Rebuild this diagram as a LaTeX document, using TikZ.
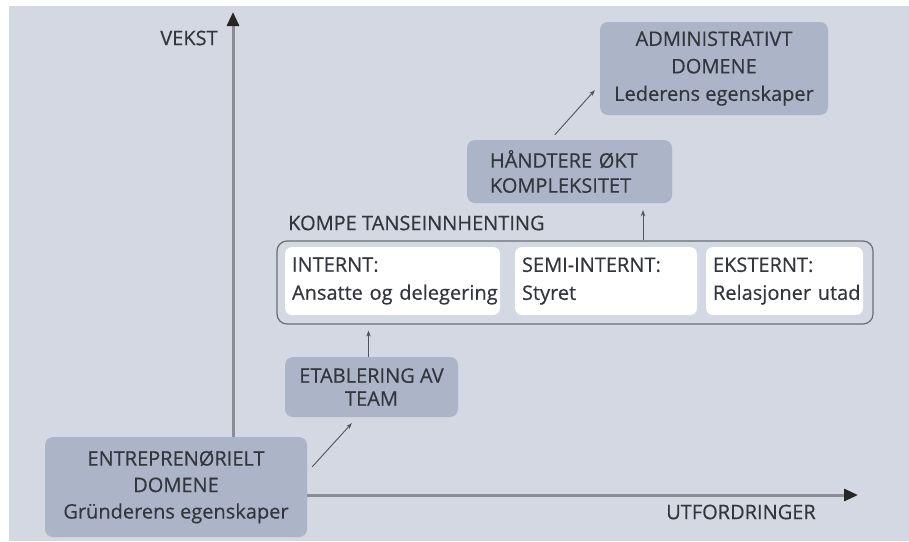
\documentclass[tikz,border=0pt]{standalone}
\usepackage{fontspec}
\setmainfont{Open Sans}[FakeBold=0.4]
\usetikzlibrary{arrows.meta,calc}
\definecolor{bg}{HTML}{D3D8E2}
\definecolor{boxc}{HTML}{ABB5C7}
\definecolor{txt}{HTML}{33363C}
\definecolor{axisc}{HTML}{8A8D94}
\definecolor{linec}{HTML}{505359}
\definecolor{framec}{HTML}{6A6D74}
\newcommand{\fsz}{\fontsize{20pt}{26.5pt}\selectfont}
\begin{document}
\begin{tikzpicture}[x=1pt,y=-1pt,
  dbox/.style={fill=boxc, rounded corners=8pt, text=txt, align=center, inner sep=0pt, font=\fsz},
  wbox/.style={fill=white, rounded corners=7pt, text=txt, align=left, inner sep=0pt, font=\fsz},
  lbl/.style={text=txt, inner sep=0pt, font=\fsz},
  arr/.style={draw=linec, line width=0.9pt, -{Stealth[length=6pt,width=4.5pt]}},
  axisarrow/.style={draw=axisc, line width=3pt, -{Triangle[length=14pt,width=12pt,color=black!85]}}
]
\useasboundingbox (0,0) rectangle (909,541);
\fill[white] (0,0) rectangle (909,541);
\fill[bg] (9,6) rectangle (909,541);

% boxes
\node[dbox, minimum width=262pt, minimum height=100pt] (entrep) at (176,487)
  {ENTREPRENØRIELT\\DOMENE\\Gründerens egenskaper};
\node[dbox, minimum width=173pt, minimum height=60pt, font=\fontsize{20pt}{23pt}\selectfont] (etab) at (371.5,387)
  {ETABLERING AV\\TEAM};
\node[draw=framec, line width=1.2pt, rounded corners=10pt, minimum width=596pt, minimum height=83pt, inner sep=0pt] (comp) at (575,282.5) {};
\node[wbox, minimum width=215pt, minimum height=68pt, text width=201pt, font=\fontsize{20pt}{28pt}\selectfont] (intern) at (392.5,281)
  {INTERNT:\\Ansatte~og~delegering};
\node[wbox, minimum width=182pt, minimum height=68pt, text width=168pt, font=\fontsize{20pt}{28pt}\selectfont] (semi) at (606,281)
  {SEMI-INTERNT:\\Styret};
\node[wbox, minimum width=157pt, minimum height=68pt, text width=143pt, font=\fontsize{20pt}{28pt}\selectfont] (ekstern) at (784.5,281)
  {EKSTERNT:\\Relasjoner~utad};
\node[lbl, anchor=west] (kompe) at (288,223) {KOMPE TANSEINNHENTING};
\node[dbox, align=left, minimum width=205pt, minimum height=63pt, text width=159pt, font=\fontsize{20pt}{25pt}\selectfont] (hand) at (569.5,171.5)
  {HÅNDTERE~ØKT\\KOMPLEKSITET};
\node[dbox, minimum width=228pt, minimum height=93pt, font=\fontsize{20pt}{27.5pt}\selectfont] (admin) at (714,68.5)
  {ADMINISTRATIVT\\DOMENE\\Lederens egenskaper};

% axis labels
\node[lbl] (vekst) at (189,38) {VEKST};
\node[lbl] (utf) at (741,512) {UTFORDRINGER};

% axes
\coordinate (vtop) at (233,12);
\coordinate (hend) at (858,495);
\draw[axisarrow] (entrep.north -| vtop) -- (vtop);
\draw[axisarrow] (entrep.east |- hend) -- (hend);

% connectors
\draw[arr] ($(entrep.north east)+(5,30)$) -- ($(etab.south west)+(67,6)$);
\draw[arr] ([xshift=-3pt]etab.north) -- ($([xshift=-3pt]etab.north |- comp.south)+(0,6)$);
\draw[arr] (comp.north -| 643,0) -- ($(hand.south -| 643,0)+(0,7)$);
\draw[arr] ($(hand.north west)+(88,-5)$) -- ($(admin.south west)+(-5,-25)$);
\end{tikzpicture}
\end{document}
